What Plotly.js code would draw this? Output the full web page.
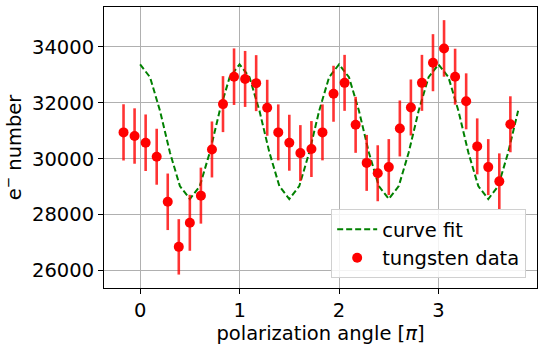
<!DOCTYPE html>
<html>
<head>
<meta charset="utf-8">
<script src="https://cdn.plot.ly/plotly-3.0.1.min.js"></script>
<style>html,body{margin:0;padding:0;background:#fff;}#chart{width:550px;height:350px;}</style>
</head>
<body>
<div id="chart"></div>
<script>
// measured polarization angles (units of pi)
const dataAngle = [-0.1667,-0.0556,0.0556,0.1667,0.2778,0.3889,0.5,0.6111,0.7222,0.8333,0.9444,
  1.0556,1.1667,1.2778,1.3889,1.5,1.6111,1.7222,1.8333,1.9444,2.0556,2.1667,2.2778,2.3889,2.5,
  2.6111,2.7222,2.8333,2.9444,3.0556,3.1667,3.2778,3.3889,3.5,3.6111,3.7222];
const dataCounts = [30940,30810,30570,30070,28460,26850,27710,28680,30330,31950,32930,
  32850,32700,31820,30940,30570,30200,30345,30940,32320,32710,31210,29850,29480,29700,
  31080,31830,32710,33430,33940,32930,32050,30440,29700,29190,31230];
const dataErr = [1005,990,1010,1000,1010,990,1000,1000,1000,1000,1010,
  1000,1000,1000,1000,1000,1000,1000,1000,1000,1000,1000,1000,1000,1000,
  1000,1000,1000,1020,1010,1000,1000,1000,1000,1000,1000];
// fitted curve samples
const fitAngle = [0,0.1,0.2,0.3,0.4,0.5,0.6,0.7,0.8,0.9,1.0,1.1,1.2,1.3,1.4,1.5,1.6,1.7,1.8,1.9,
  2.0,2.1,2.2,2.3,2.4,2.5,2.6,2.7,2.8,2.9,3.0,3.1,3.2,3.3,3.4,3.5,3.6,3.7,3.8];
const fitCounts = [33370,32910,31710,30220,29020,28560,29020,30220,31710,32910,33370,32910,31710,30220,29020,28560,29020,30220,31710,32910,
  33370,32910,31710,30220,29020,28560,29020,30220,31710,32910,33370,32910,31710,30220,29020,28560,29020,30220,31710];
const xTicks = [0,1,2,3,4];
const yTicks = [26000,28000,30000,32000,34000];

const font = {family: 'DejaVu Sans', size: 19.5, color: '#000'};
const traces = [
  {x: fitAngle, y: fitCounts, type: 'scatter', mode: 'lines', name: 'curve fit',
   line: {color: 'rgb(0,128,0)', width: 2, dash: '6px,3px'}},
  {x: dataAngle, y: dataCounts, type: 'scatter', mode: 'markers', name: 'tungsten data',
   marker: {color: 'rgb(255,0,0)', size: 10},
   error_y: {type: 'data', array: dataErr, visible: true, color: 'rgba(255,0,0,0.8)', thickness: 2.6, width: 0}}
];
const layout = {
  width: 550, height: 350,
  margin: {l: 104, r: 13, t: 7, b: 62},
  paper_bgcolor: '#fff', plot_bgcolor: '#fff',
  font: font,
  showlegend: true,
  legend: {x: 0.975, xanchor: 'right', y: 0.035, yanchor: 'bottom', bgcolor: 'rgba(255,255,255,0.85)',
    bordercolor: '#d0d0d0', borderwidth: 1, font: {family: 'DejaVu Sans', size: 19.5, color: '#000'},
    traceorder: 'normal', itemwidth: 40, tracegroupgap: 0},
  xaxis: {range: [-0.363, 3.99], tickvals: xTicks, ticktext: xTicks.map(String), ticks: 'outside', ticklen: 5,
    tickcolor: '#000', showgrid: true, gridcolor: '#b0b0b0', gridwidth: 1, zeroline: false,
    showline: true, linecolor: '#000', linewidth: 1, mirror: true,
    title: {text: 'polarization angle [<i>π</i>]', font: font, standoff: 4}},
  yaxis: {range: [25380, 35420], tickvals: yTicks, ticktext: yTicks.map(String), ticks: 'outside', ticklen: 5,
    tickcolor: '#000', showgrid: true, gridcolor: '#b0b0b0', gridwidth: 1, zeroline: false,
    showline: true, linecolor: '#000', linewidth: 1, mirror: true,
    title: {text: 'e<sup>−</sup> number', font: font, standoff: 6}}
};
Plotly.newPlot('chart', traces, layout, {staticPlot: true, displayModeBar: false});
</script>
</body>
</html>
